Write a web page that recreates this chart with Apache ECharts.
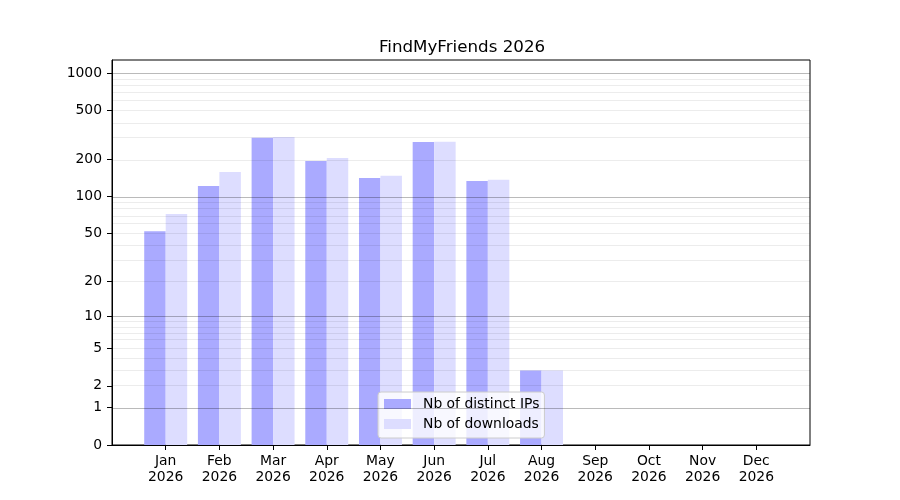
<!DOCTYPE html>
<html>
<head>
<meta charset="utf-8">
<script src="https://cdn.jsdelivr.net/npm/echarts@6/dist/echarts.min.js"></script>
<style>
html,body{margin:0;padding:0;background:#fff;}
#chart{width:900px;height:500px;}
</style>
</head>
<body>
<div id="chart"></div>
<script>
// ---- data ----
const months = ['Jan', 'Feb', 'Mar', 'Apr', 'May', 'Jun', 'Jul', 'Aug', 'Sep', 'Oct', 'Nov', 'Dec'];
const year = '2026';
const distinctIPs = [52, 122, 300, 195, 142, 278, 134, 3, 0, 0, 0, 0];
const downloads = [72, 159, 305, 206, 148, 279, 137, 3, 0, 0, 0, 0];
const yTickValues = [0, 1, 2, 5, 10, 20, 50, 100, 200, 500, 1000];
const majorGrid = [1, 10, 100, 1000];
const minorGrid = [2, 3, 4, 5, 6, 7, 8, 9, 20, 30, 40, 50, 60, 70, 80, 90, 200, 300, 400, 500, 600, 700, 800, 900];

// symlog-like transform: log10(v + 1)
const tf = v => Math.log10(v + 1);
const yMax = 3.107;

const cats = [''].concat(months.map(m => m + '\n' + year)).concat(['']);
const pad = arr => [null].concat(arr.map(tf)).concat([null]);

const font = 'DejaVu Sans';
const chart = echarts.init(document.getElementById('chart'), null, {renderer: 'canvas'});

const gridLines = majorGrid.map(v => ({yAxis: tf(v), lineStyle: {color: 'rgba(0,0,0,0.27)', width: 1, type: 'solid'}}))
  .concat(minorGrid.map(v => ({yAxis: tf(v), lineStyle: {color: 'rgba(0,0,0,0.075)', width: 1, type: 'solid'}})));

chart.setOption({
  animation: false,
  backgroundColor: '#fff',
  title: {
    text: 'FindMyFriends 2026',
    left: 457,
    textAlign: 'center',
    top: 34,
    textStyle: {fontFamily: font, fontSize: 16.7, fontWeight: 'normal', color: '#000'}
  },
  grid: {
    left: 112, right: 90, top: 60, bottom: 55,
    show: true, borderColor: '#000', borderWidth: 1, backgroundColor: 'transparent'
  },
  legend: {
    orient: 'vertical',
    left: 378,
    top: 392,
    data: ['Nb of distinct IPs', 'Nb of downloads'],
    icon: 'rect',
    itemWidth: 27,
    itemHeight: 10,
    itemGap: 4,
    padding: [4, 5, 6, 6],
    backgroundColor: 'rgba(255,255,255,0.8)',
    borderColor: '#cccccc',
    borderWidth: 1,
    borderRadius: 3,
    textStyle: {fontFamily: font, fontSize: 13.9, color: '#000', lineHeight: 16, padding: [0, 0, 0, 7]}
  },
  xAxis: {
    type: 'category',
    data: cats,
    boundaryGap: false,
    axisLine: {show: true, lineStyle: {color: '#000', width: 1}},
    axisTick: {
      show: true, inside: false, length: 5,
      lineStyle: {color: '#000', width: 1},
      interval: (idx) => idx > 0 && idx < cats.length - 1
    },
    axisLabel: {
      interval: 0, margin: 8, color: '#000',
      fontFamily: font, fontSize: 13.9, lineHeight: 16.5, align: 'center'
    },
    splitLine: {show: false}
  },
  yAxis: {
    type: 'value',
    min: 0,
    max: yMax,
    axisLine: {show: true, lineStyle: {color: '#000', width: 1}},
    axisTick: {show: true, inside: false, length: 5, lineStyle: {color: '#000', width: 1}, customValues: yTickValues.map(tf)},
    axisLabel: {
      show: true, margin: 10, color: '#000', fontFamily: font, fontSize: 13.9,
      customValues: yTickValues.map(tf),
      formatter: val => String(Math.round(Math.pow(10, val) - 1))
    },
    splitLine: {show: false}
  },
  series: [
    {
      name: 'Nb of distinct IPs',
      type: 'bar',
      data: pad(distinctIPs),
      barGap: '0%',
      barCategoryGap: '20%',
      itemStyle: {color: '#aaaaff'},
      z: 2
    },
    {
      name: 'Nb of downloads',
      type: 'bar',
      data: pad(downloads),
      barGap: '0%',
      barCategoryGap: '20%',
      itemStyle: {color: '#ddddff'},
      z: 2
    },
    {
      name: 'grid',
      type: 'line',
      data: [],
      z: 5,
      silent: true,
      markLine: {
        silent: true,
        symbol: ['none', 'none'],
        label: {show: false},
        emphasis: {disabled: true},
        data: gridLines,
        z: 5
      }
    }
  ]
});
</script>
</body>
</html>
